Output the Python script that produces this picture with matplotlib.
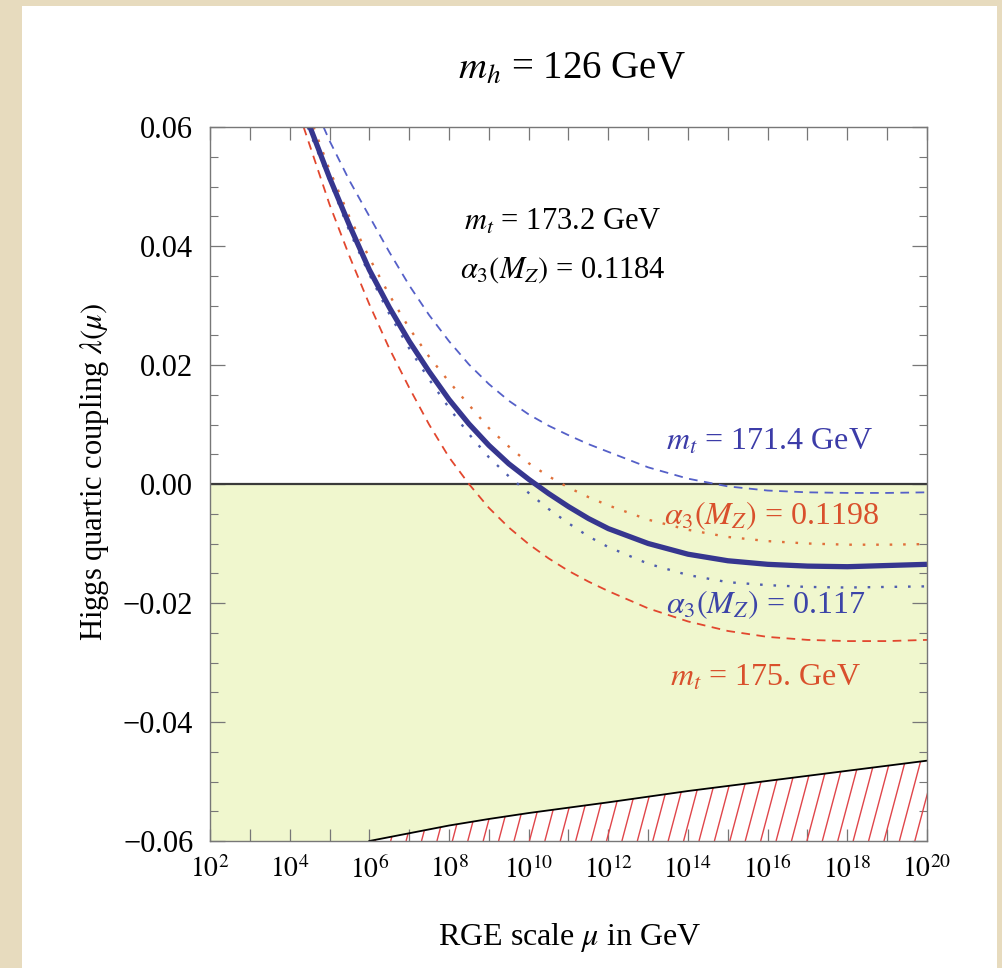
import numpy as np
import matplotlib
matplotlib.use("Agg")
import matplotlib.pyplot as plt
from matplotlib.patches import Rectangle
from matplotlib.collections import LineCollection
from matplotlib.ticker import FixedLocator, NullFormatter

plt.rcParams['font.family'] = ['Liberation Serif', 'DejaVu Serif']
plt.rcParams['mathtext.fontset'] = 'stix'

# ---- data (log10 of RGE scale mu in GeV, lambda values) ----
central_logmu = [4.51, 5, 5.5, 6, 6.5, 7, 7.5, 8, 8.5, 9, 9.5, 10, 10.5, 11, 11.5, 12,
                 13, 14, 15, 16, 17, 18, 19, 20]
central_lam = [0.060, 0.0515, 0.0435, 0.0360, 0.0297, 0.0240, 0.0189, 0.0142, 0.0101,
               0.0065, 0.0034, 0.0008, -0.0016, -0.0038, -0.0058, -0.0075,
               -0.0100, -0.0118, -0.0129, -0.0135, -0.0138, -0.0139, -0.0137, -0.0135]

mt1714_logmu = [4.85, 5, 5.5, 6, 6.5, 7, 7.5, 8, 8.5, 9, 9.5, 10, 10.5, 11, 11.5, 12,
                13, 14, 15, 16, 17, 18, 19, 20]
mt1714_lam = [0.060, 0.0577, 0.0510, 0.0450, 0.0390, 0.0334, 0.0284, 0.0240, 0.0201,
              0.0168, 0.0140, 0.0117, 0.0098, 0.0082, 0.0067, 0.0054,
              0.0028, 0.0009, -0.0004, -0.0011, -0.0014, -0.0015, -0.0015, -0.0014]

mt175_logmu = [4.35, 5, 5.5, 6, 6.5, 7, 7.5, 8, 8.5, 9, 9.5, 10, 10.5, 11, 11.5, 12,
               13, 14, 15, 16, 17, 18, 19, 20]
mt175_lam = [0.060, 0.0470, 0.0383, 0.0302, 0.0228, 0.0162, 0.0100, 0.0045, 0.0000,
             -0.0040, -0.0073, -0.0101, -0.0125, -0.0146, -0.0164, -0.0180,
             -0.0209, -0.0231, -0.0247, -0.0257, -0.0262, -0.0264, -0.0264, -0.0262]

a1198_logmu = [4.6, 5, 5.5, 6, 6.5, 7, 7.5, 8, 8.5, 9, 9.5, 10, 10.5, 11, 11.5, 12,
               13, 14, 15, 16, 17, 18, 19, 20]
a1198_lam = [0.060, 0.0528, 0.0449, 0.0380, 0.0318, 0.0262, 0.0214, 0.0172, 0.0133,
             0.0094, 0.0063, 0.0035, 0.0013, -0.0006, -0.0022, -0.0036,
             -0.0060, -0.0077, -0.0089, -0.0096, -0.0100, -0.0102, -0.0102, -0.0101]

a117_logmu = [4.45, 5, 5.5, 6, 6.5, 7, 7.5, 8, 8.5, 9, 9.5, 10, 10.5, 11, 11.5, 12,
              13, 14, 15, 16, 17, 18, 19, 20]
a117_lam = [0.060, 0.0510, 0.0425, 0.0352, 0.0286, 0.0228, 0.0176, 0.0128, 0.0084,
            0.0045, 0.0013, -0.0015, -0.0042, -0.0066, -0.0088, -0.0106,
            -0.0134, -0.0153, -0.0165, -0.0170, -0.0173, -0.0174, -0.0173, -0.0172]

# lower (meta)stability boundary
bound_logmu = [2, 6, 7, 8, 9, 10, 12, 14, 16, 18, 20]
bound_lam = [-0.0600, -0.0600, -0.0587, -0.0574, -0.0563, -0.0553, -0.0535, -0.0516,
             -0.0499, -0.0482, -0.0465]

xtick_exps = [2, 4, 6, 8, 10, 12, 14, 16, 18, 20]
ytick_vals = [-0.06, -0.04, -0.02, 0.00, 0.02, 0.04, 0.06]
ytick_labels = ['\u22120.06', '\u22120.04', '\u22120.02', '0.00', '0.02', '0.04', '0.06']

def mu(l):
    return 10.0 ** np.asarray(l, dtype=float)

W, H = 1003, 968
fig = plt.figure(figsize=(W / 100, H / 100), dpi=100)
fig.patch.set_facecolor('#E7DBBE')
fig.patches.append(Rectangle((22 / W, 0), (997 - 22) / W, (968 - 6) / H,
                             transform=fig.transFigure, facecolor='white',
                             edgecolor='none', zorder=-10))

ax = fig.add_axes([210 / W, 1 - 841 / H, (927 - 210) / W, (841 - 127) / H])
ax.set_zorder(2)
ax.set_facecolor('white')
ax.set_xscale('log')
ax.set_xlim(1e2, 1e20)
ax.set_ylim(-0.06, 0.06)

# shaded negative region
bx = mu(bound_logmu)
by = np.array(bound_lam)
ax.fill_between(bx, by, 0, facecolor='#F0F7CE', edgecolor='none', zorder=1)

# hatched region below boundary (white with red steep hatching)
hatch_poly = ax.fill_between(bx, -0.06, by, facecolor='white', edgecolor='none', zorder=1)
starts = np.arange(-0.35, 1.05, 0.0215)
segs = [[(s, 0.0), (s + 0.265, 1.0)] for s in starts]
lc = LineCollection(segs, colors='#E0454A', linewidths=1.0, transform=ax.transAxes, zorder=2)
ax.add_collection(lc)
lc.set_clip_path(hatch_poly.get_paths()[0], hatch_poly.get_transform())
ax.plot(bx[1:], by[1:], color='black', lw=1.3, zorder=3)

# zero line
ax.axhline(0, color='#3a3a3a', lw=1.6, zorder=3)

# curves
ax.plot(mu(mt1714_logmu), mt1714_lam, color='#5560C8', lw=1.3, dashes=(4.8, 3.6), zorder=4)
ax.plot(mu(mt175_logmu), mt175_lam, color='#E2472E', lw=1.3, dashes=(4.8, 3.6), zorder=4)
ax.plot(mu(a1198_logmu), a1198_lam, color='#E0703A', lw=1.7, dashes=(1.1, 4.6), zorder=4)
ax.plot(mu(a117_logmu), a117_lam, color='#4F5EAE', lw=1.7, dashes=(1.1, 4.6), zorder=4)
ax.plot(mu(central_logmu), central_lam, color='#36368F', lw=3.8, zorder=5,
        solid_capstyle='butt', solid_joinstyle='round')

# ticks
ax.xaxis.set_major_locator(FixedLocator([10.0 ** e for e in xtick_exps]))
ax.xaxis.set_minor_locator(FixedLocator([10.0 ** e for e in range(3, 20, 2)]))
ax.set_xticklabels([r'$10^{%d}$' % e for e in xtick_exps])
ax.xaxis.set_minor_formatter(NullFormatter())
ax.yaxis.set_major_locator(FixedLocator(ytick_vals))
ax.yaxis.set_minor_locator(FixedLocator(np.arange(-0.06, 0.0601, 0.005)))
ax.set_yticklabels(ytick_labels)
ax.tick_params(which='both', direction='in', top=True, right=True, color='#777777')
ax.tick_params(axis='x', which='both', length=9, width=0.9, labelsize=20, pad=11)
ax.tick_params(axis='y', which='major', length=11, width=0.9, labelsize=22, pad=12)
ax.tick_params(axis='y', which='minor', length=6, width=0.8)
for sp in ax.spines.values():
    sp.set_color('#777777')
    sp.set_linewidth(1.0)
    sp.set_zorder(6)

# texts
fig.text(572 / W, 1 - 69 / H, r'$m_h$ = 126 GeV', ha='center', va='center', fontsize=28)
fig.text(570 / W, 1 - 938 / H, r'RGE scale $\mu$ in GeV', ha='center', va='center', fontsize=23)
fig.text(95 / W, 1 - 472 / H, r'Higgs quartic coupling $\lambda(\mu)$', ha='center',
         va='center', rotation=90, fontsize=22)

ax.text(10 ** 10.85, 0.0440, r'$m_t$ = 173.2 GeV', ha='center', va='center', fontsize=22)
ax.text(10 ** 10.85, 0.0360, r'$\alpha_3(M_Z)$ = 0.1184', ha='center', va='center', fontsize=22)
ax.text(10 ** 16.05, 0.0070, r'$m_t$ = 171.4 GeV', ha='center', va='center', fontsize=23,
        color='#3C3CA8', zorder=7)
ax.text(10 ** 16.1, -0.0054, r'$\alpha_3(M_Z)$ = 0.1198', ha='center', va='center',
        fontsize=23, color='#D9502C', zorder=7)
ax.text(10 ** 15.95, -0.0203, r'$\alpha_3(M_Z)$ = 0.117', ha='center', va='center',
        fontsize=23, color='#3C44A8', zorder=7)
ax.text(10 ** 15.95, -0.0326, r'$m_t$ = 175. GeV', ha='center', va='center', fontsize=23,
        color='#D9502C', zorder=7)

fig.savefig('out.png', dpi=100, facecolor=fig.get_facecolor())
